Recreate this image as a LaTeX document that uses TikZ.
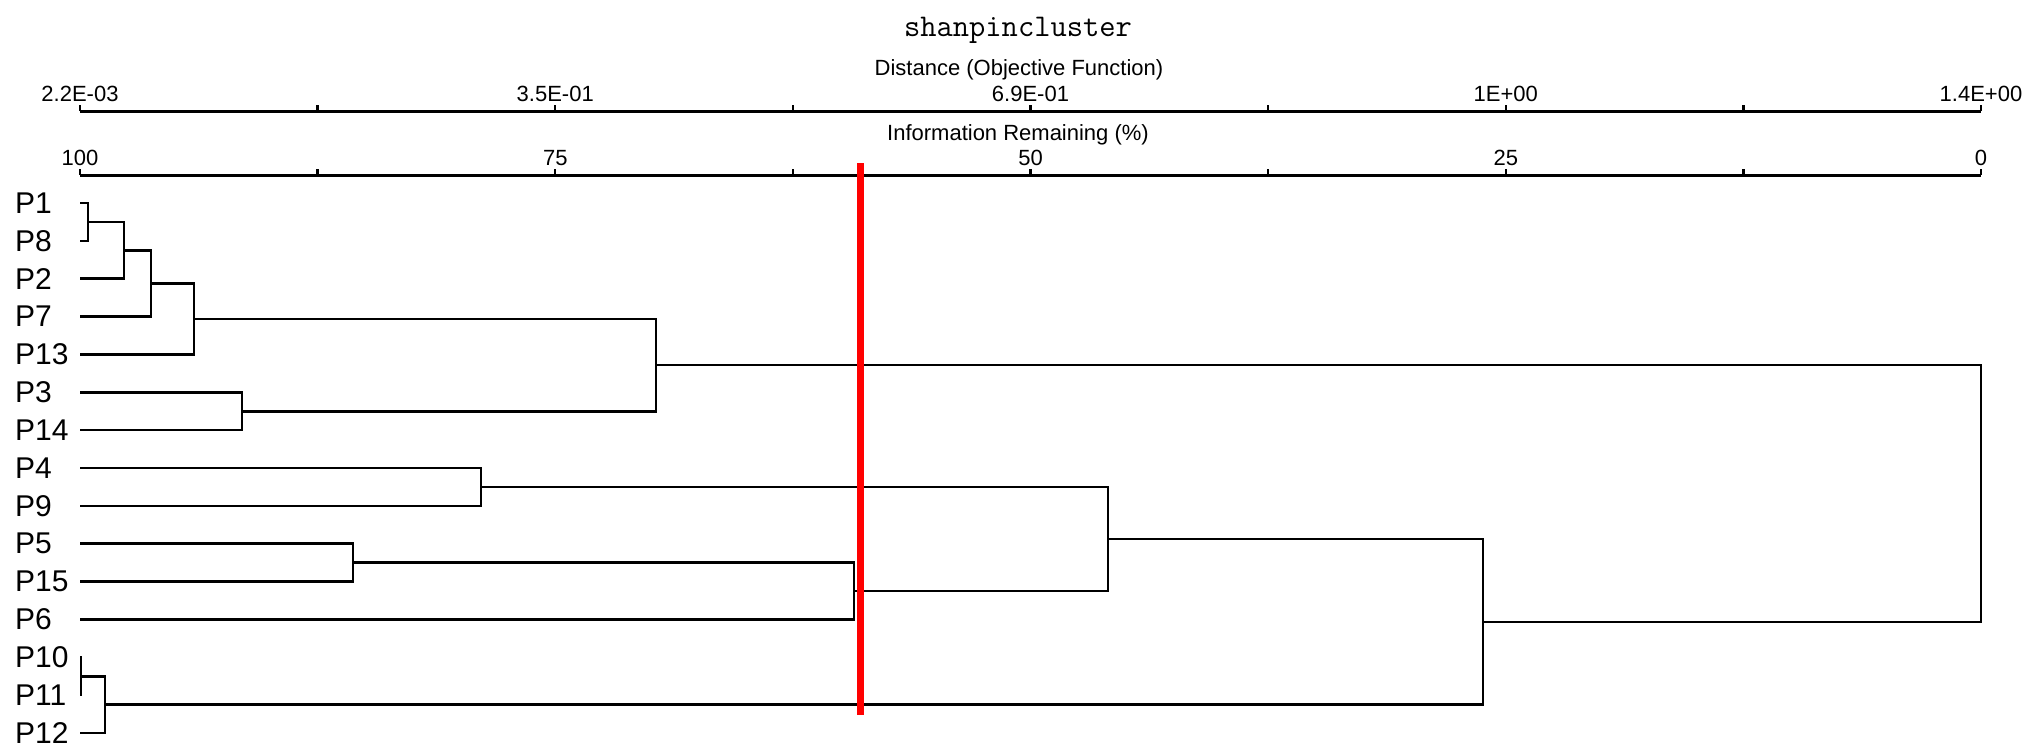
\documentclass[tikz,border=0pt]{standalone}
\usepackage{fontspec}
\setmainfont{Liberation Sans}
\begin{document}
\begin{tikzpicture}[x=1pt,y=-1pt,
  tree/.style={line width=2.6pt},
  axisline/.style={line width=3pt},
  tickline/.style={line width=2.4pt},
  ticklabel/.style={anchor=base,inner sep=0pt,font=\fontsize{22}{24}\selectfont},
  axistitle/.style={anchor=base,inner sep=0pt,font=\fontsize{22}{24}\selectfont},
  leaflabel/.style={anchor=west,inner sep=0pt,font=\fontsize{30}{34}\selectfont},
  cutline/.style={red,line width=7pt}]
\useasboundingbox[fill=white] (0,0) rectangle (2027,747);

% title
\node[anchor=base,inner sep=0pt,font=\ttfamily\fontsize{31.6}{34}\selectfont] (title) at (1018,36) {shanpincluster};

% top axis
\node[axistitle] (dtitle) at (1019,75) {Distance (Objective Function)};
\coordinate (ta0) at (80,111);
\coordinate (ta1) at (1981,111);
\draw[axisline] (ta0) -- (ta1);
\foreach \k in {0,...,8} {
  \coordinate (tt\k) at ({80+237.625*\k},111);
  \draw[tickline] (tt\k) -- ++(0,-6);
}
\foreach \k/\t in {0/2.2E-03,2/3.5E-01,4/6.9E-01,6/1E+00,8/1.4E+00} {
  \node[ticklabel] (tl\k) at ({80+237.625*\k},101) {\t};
}

% bottom axis
\node[axistitle] (ititle) at (1018,140) {Information Remaining (\%)};
\coordinate (ba0) at (80,175);
\coordinate (ba1) at (1981,175);
\draw[axisline] (ba0) -- (ba1);
\foreach \k in {0,...,8} {
  \coordinate (bt\k) at ({80+237.625*\k},175);
  \draw[tickline] (bt\k) -- ++(0,-6);
}
\foreach \k/\t in {0/100,2/75,4/50,6/25,8/0} {
  \node[ticklabel] (bl\k) at ({80+237.625*\k},165) {\t};
}

% leaves
\foreach \n [count=\i from 0] in {P1,P8,P2,P7,P13,P3,P14,P4,P9,P5,P15,P6,P10,P11,P12} {
  \pgfmathsetmacro\yy{203+37.857*\i}
  \node[leaflabel] (\n) at (15,\yy) {\n};
  \coordinate (l\n) at (80,\yy);
}

% joins
\coordinate (j18) at (88,222.0);
\coordinate (j182) at (124,250.3);
\coordinate (j1827) at (151,283.5);
\coordinate (jA) at (194,319.0);
\coordinate (j314) at (242,411.2);
\coordinate (jAB) at (656,365.1);
\coordinate (j49) at (481,487.0);
\coordinate (j515) at (353,562.7);
\coordinate (j5156) at (854,591.1);
\coordinate (jC) at (1108,539.0);
\coordinate (j1011) at (81,676.3);
\coordinate (jD) at (105,704.6);
\coordinate (jCD) at (1483,621.8);
\coordinate (root) at (1981,493.5);

\draw[tree] (lP1) -| (j18) |- (lP8);
\draw[tree] (j18) -| (j182) |- (lP2);
\draw[tree] (j182) -| (j1827) |- (lP7);
\draw[tree] (j1827) -| (jA) |- (lP13);
\draw[tree] (lP3) -| (j314) |- (lP14);
\draw[tree] (jA) -| (jAB) |- (j314);
\draw[tree] (lP4) -| (j49) |- (lP9);
\draw[tree] (lP5) -| (j515) |- (lP15);
\draw[tree] (j515) -| (j5156) |- (lP6);
\draw[tree] (j49) -| (jC) |- (j5156);
\draw[tree] (lP10) -| (j1011) |- (lP11);
\draw[tree] (j1011) -| (jD) |- (lP12);
\draw[tree] (jC) -| (jCD) |- (jD);
\draw[tree] (jAB) -| (root) |- (jCD);

% cut line
\coordinate (cut0) at (860,163);
\coordinate (cut1) at (860,715);
\draw[cutline] (cut0) -- (cut1);
\end{tikzpicture}
\end{document}
